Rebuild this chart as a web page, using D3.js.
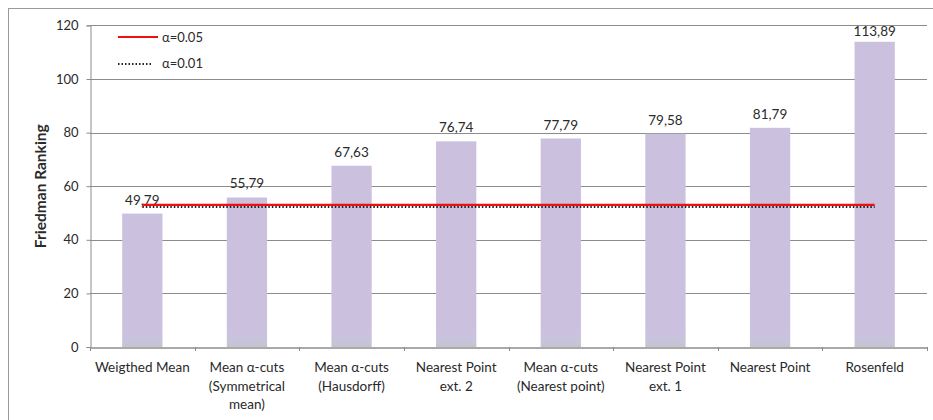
<!DOCTYPE html>
<html>
<head>
<meta charset="utf-8">
<script src="https://cdn.jsdelivr.net/npm/d3@7"></script>
<style>
  html, body { margin: 0; padding: 0; background: #fff; }
  svg { display: block; }
  text { font-family: Lato, "Open Sans", "Liberation Sans", sans-serif; fill: #2a2a2a; }
</style>
</head>
<body>
<svg id="chart" width="933" height="420"></svg>
<script>
// Friedman ranking per method
const categories = [
  ["Weigthed Mean"],
  ["Mean \u03b1-cuts", "(Symmetrical", "mean)"],
  ["Mean \u03b1-cuts", "(Hausdorff)"],
  ["Nearest Point", "ext. 2"],
  ["Mean \u03b1-cuts", "(Nearest point)"],
  ["Nearest Point", "ext. 1"],
  ["Nearest Point"],
  ["Rosenfeld"]
];
const rankings = [49.79, 55.79, 67.63, 76.74, 77.79, 79.58, 81.79, 113.89];
const valueLabels = ["49,79", "55,79", "67,63", "76,74", "77,79", "79,58", "81,79", "113,89"];
const yTicks = [0, 20, 40, 60, 80, 100, 120];
// critical-difference thresholds
const thresholds = [
  { label: "\u03b1=0.05", value: 53.0 },
  { label: "\u03b1=0.01", value: 52.2 }
];

const svg = d3.select("#chart");
const plotLeft = 90, plotRight = 927, plotTop = 25.4, plotBottom = 347;

// outer chart frame
svg.append("rect")
  .attr("x", 8.5).attr("y", 8.5).attr("width", 940).attr("height", 420)
  .attr("fill", "none").attr("stroke", "#9a9a9a").attr("stroke-width", 1);

const x = d3.scaleBand().domain(d3.range(categories.length)).range([plotLeft, plotRight]).padding(0);
const y = d3.scaleLinear().domain([0, 120]).range([plotBottom, plotTop]);

// gridlines
svg.append("g").selectAll("line").data(yTicks.filter(d => d > 0)).join("line")
  .attr("x1", plotLeft).attr("x2", plotRight)
  .attr("y1", d => Math.round(y(d)) + 0.5).attr("y2", d => Math.round(y(d)) + 0.5)
  .attr("stroke", "#8c8c8c").attr("stroke-width", 1);

// bar gradient: lavender body, greyer near the base
const defs = svg.append("defs");
const grad = defs.append("linearGradient").attr("id", "barGrad")
  .attr("gradientUnits", "userSpaceOnUse").attr("x1", 0).attr("x2", 0)
  .attr("y1", plotBottom - 16).attr("y2", plotBottom);
grad.append("stop").attr("offset", 0).attr("stop-color", "#cbc1df");
grad.append("stop").attr("offset", 0.55).attr("stop-color", "#c9c3dc");
grad.append("stop").attr("offset", 1).attr("stop-color", "#c4c4cf");

const barW = x.bandwidth() * 0.385;
svg.append("g").selectAll("rect").data(rankings).join("rect")
  .attr("x", (d, i) => x(i) + x.bandwidth() / 2 - barW / 2)
  .attr("y", d => y(d))
  .attr("width", barW)
  .attr("height", d => y(0) - y(d))
  .attr("fill", "url(#barGrad)");

// y axis
const yAxis = d3.axisLeft(y).tickValues(yTicks).tickSize(4).tickPadding(8);
const gy = svg.append("g").attr("transform", `translate(${plotLeft + 0.5},0)`).call(yAxis);
gy.select(".domain").attr("stroke", "#8c8c8c");
gy.selectAll(".tick line").attr("stroke", "#8c8c8c");
gy.selectAll(".tick text").attr("font-size", 13).attr("fill", "#2a2a2a")
  .attr("font-family", "Lato, 'Open Sans', sans-serif");

// x axis
const xAxis = d3.axisBottom(x).tickValues([]).tickSizeOuter(0);
const gx = svg.append("g").attr("transform", `translate(0,${plotBottom + 0.5})`).call(xAxis);
gx.select(".domain").attr("stroke", "#8c8c8c").attr("stroke-width", 1.3);
// category separators
svg.append("g").selectAll("line").data(d3.range(categories.length + 1)).join("line")
  .attr("x1", i => Math.round(plotLeft + i * x.step()) + 0.5)
  .attr("x2", i => Math.round(plotLeft + i * x.step()) + 0.5)
  .attr("y1", plotBottom).attr("y2", plotBottom + 4)
  .attr("stroke", "#8c8c8c");

// category labels
const catG = svg.append("g").selectAll("text").data(categories).join("text")
  .attr("text-anchor", "middle")
  .attr("font-size", 13.5);
catG.each(function(lines, i) {
  d3.select(this).selectAll("tspan").data(lines).join("tspan")
    .attr("x", x(i) + x.bandwidth() / 2)
    .attr("y", (l, j) => 372 + j * 18.5)
    .text(l => l);
});

// value labels (kept inside the plot area near the top)
svg.append("g").selectAll("text").data(rankings).join("text")
  .attr("x", (d, i) => x(i) + x.bandwidth() / 2)
  .attr("y", d => Math.max(y(d) - 9, plotTop + 10.5))
  .attr("text-anchor", "middle")
  .attr("font-size", 13.5)
  .text((d, i) => valueLabels[i]);

// threshold lines spanning first to last category centre
const x0 = x(0) + x.bandwidth() / 2;
const x1 = x(categories.length - 1) + x.bandwidth() / 2;
svg.append("line")
  .attr("x1", x0).attr("x2", x1)
  .attr("y1", y(thresholds[1].value)).attr("y2", y(thresholds[1].value))
  .attr("stroke", "#222").attr("stroke-width", 2).attr("stroke-dasharray", "1.5,2");
svg.append("line")
  .attr("x1", x0).attr("x2", x1)
  .attr("y1", y(thresholds[0].value)).attr("y2", y(thresholds[0].value))
  .attr("stroke", "#ee1111").attr("stroke-width", 2.2);

// legend
const leg = svg.append("g");
leg.append("line").attr("x1", 118).attr("x2", 158).attr("y1", 37).attr("y2", 37)
  .attr("stroke", "#ee1111").attr("stroke-width", 2.2);
leg.append("text").attr("x", 162).attr("y", 41.5).attr("font-size", 13).text(thresholds[0].label);
leg.append("line").attr("x1", 118).attr("x2", 153).attr("y1", 64).attr("y2", 64)
  .attr("stroke", "#222").attr("stroke-width", 2).attr("stroke-dasharray", "1.5,2");
leg.append("text").attr("x", 162).attr("y", 68).attr("font-size", 13).text(thresholds[1].label);

// y axis title
svg.append("text")
  .attr("transform", `translate(46,${(plotTop + plotBottom) / 2}) rotate(-90)`)
  .attr("text-anchor", "middle")
  .attr("font-size", 15.5).attr("font-weight", "bold")
  .text("Friedman Ranking");
</script>
</body>
</html>
